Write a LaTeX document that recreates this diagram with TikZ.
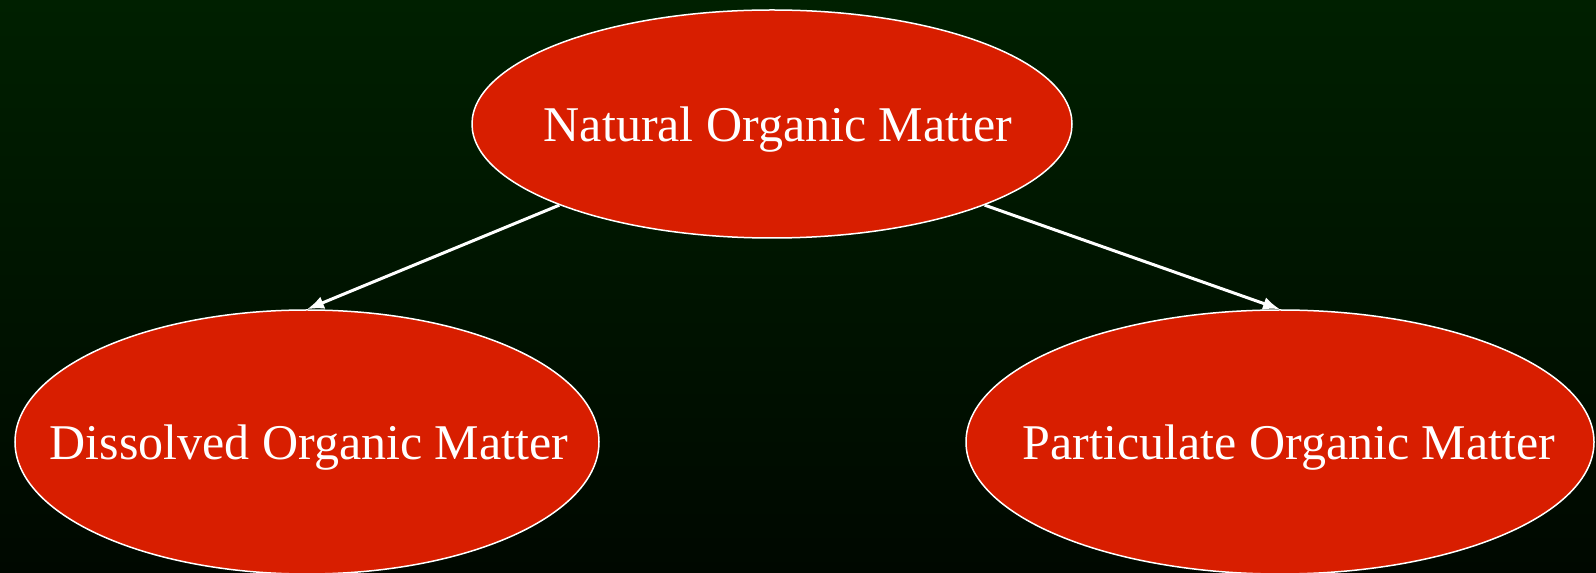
\documentclass[tikz,border=0pt]{standalone}
\usepackage{fontspec}
\setmainfont{Liberation Serif}
\usepackage{tikz}
\usetikzlibrary{shapes.geometric, arrows.meta, positioning}
\definecolor{topgreen}{HTML}{002000}
\definecolor{deepgreen}{HTML}{000800}
\definecolor{matter}{HTML}{D81E00}
\newcommand{\omlabel}[2]{\makebox[0pt]{\hspace*{#1}\smash{\raisebox{-18pt}{#2}}}}

\begin{document}
\begin{tikzpicture}[x=1pt, y=1pt, >={Latex[length=17pt, width=13pt]}]
        \shade [top color=topgreen, bottom color=deepgreen] (0,0) rectangle (1596,573);
        \useasboundingbox (0,0) rectangle (1596,573);
        \tikzset{om/.style={ellipse, draw=white, line width=1.5pt, fill=matter, text=white, inner sep=0pt, font=\fontsize{50}{60}\selectfont}}

        \node (nom) [om, minimum width=600pt, minimum height=228pt] at (772,449) {\omlabel{12pt}{Natural Organic Matter}};
        \node (dom) [om, minimum width=584pt, minimum height=264pt] at (307,131) {\omlabel{4pt}{Dissolved Organic Matter}};
        \node (pom) [om, minimum width=628pt, minimum height=264pt] at (1280,131) {\omlabel{18pt}{Particulate Organic Matter}};

        \draw [->, white, line width=3pt] (nom.south west) -- (dom.north);
        \draw [->, white, line width=3pt] (nom.south east) -- (pom.north);
    \end{tikzpicture}
\end{document}
